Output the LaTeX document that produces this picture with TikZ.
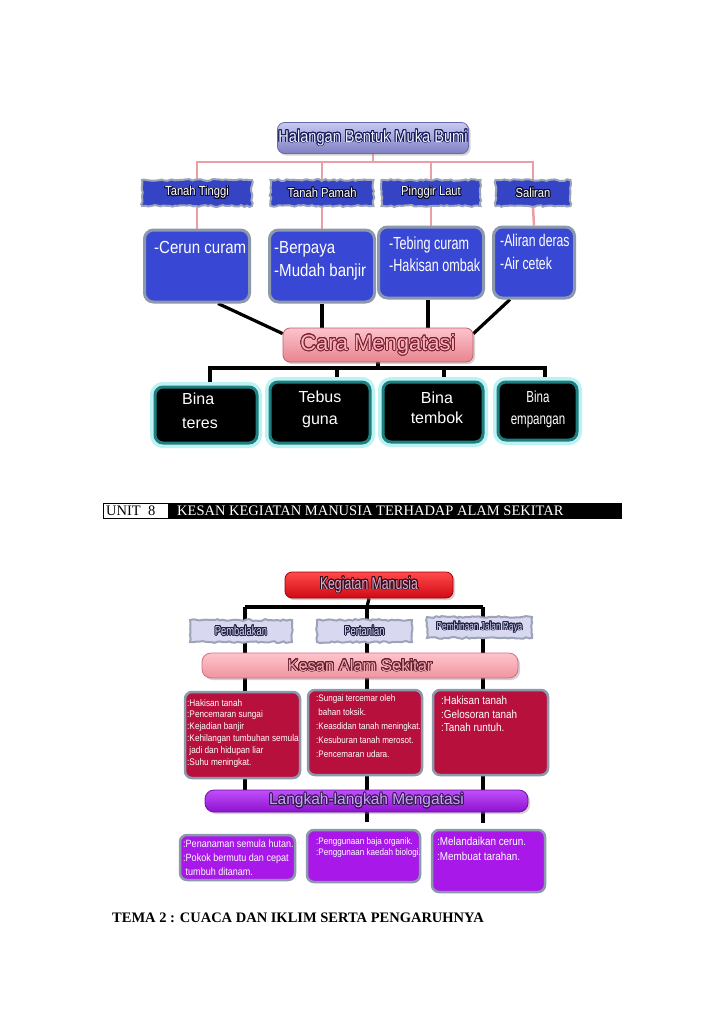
\documentclass[tikz,border=0pt]{standalone}
\usepackage{fontspec}
\setmainfont{Liberation Serif}
\newfontfamily\ars{Liberation Sans}
\newfontfamily\arc[FakeStretch=0.86]{Liberation Sans}
\newfontfamily\arcc[FakeStretch=0.72]{Liberation Sans}
\usepackage[copies]{contour}
\contourlength{0.8pt}
\contournumber{24}
\usetikzlibrary{decorations.pathmorphing,shadows,calc}
\pgfdeclarelayer{back}
\pgfdeclarelayer{bg}
\pgfsetlayers{back,bg,main}
\definecolor{pinkline}{HTML}{E8A0A4}
\definecolor{jblue}{HTML}{3444C4}
\definecolor{jborder}{HTML}{9CA4B8}
\definecolor{bbox}{HTML}{3848D4}
\definecolor{stone}{HTML}{8C98AC}
\definecolor{tealb}{HTML}{1E7E80}
\definecolor{glow}{HTML}{BDF2F2}
\definecolor{lav}{HTML}{D8D8F0}
\definecolor{crim}{HTML}{B8103C}
\definecolor{purp}{HTML}{A818E8}
\definecolor{halT}{HTML}{C8C8F2}
\definecolor{halB}{HTML}{8080C4}
\definecolor{halD}{HTML}{6A6AA8}
\definecolor{halF}{HTML}{E6F2FF}
\definecolor{halO}{HTML}{1C1C5A}
\definecolor{dkO}{HTML}{101030}
\definecolor{carT}{HTML}{FCC4CC}
\definecolor{carB}{HTML}{E8848E}
\definecolor{carD}{HTML}{C06070}
\definecolor{carF}{HTML}{F8B4BC}
\definecolor{carO}{HTML}{7A2030}
\definecolor{kmT}{HTML}{FF4A4A}
\definecolor{kmB}{HTML}{D00A14}
\definecolor{kmD}{HTML}{A00010}
\definecolor{kmF}{HTML}{E8A8C8}
\definecolor{kmO}{HTML}{301020}
\definecolor{lavF}{HTML}{D8D8F4}
\definecolor{lavO}{HTML}{202040}
\definecolor{kasT}{HTML}{FFC4CC}
\definecolor{kasB}{HTML}{F0949E}
\definecolor{kasD}{HTML}{D07080}
\definecolor{kasF}{HTML}{F4A6AE}
\definecolor{kasO}{HTML}{602030}
\definecolor{lgT}{HTML}{C050FA}
\definecolor{lgB}{HTML}{8E10D0}
\definecolor{lgD}{HTML}{7010A8}
\definecolor{lgF}{HTML}{C8A4F2}
\definecolor{lgO}{HTML}{3A1A5A}
\newcommand{\otx}[3]{\textcolor{#1}{\contour{#2}{#3}}}
\tikzset{
  pinkln/.style={draw=pinkline, line width=2.5pt},
  blkln/.style={draw=black, line width=3.2pt},
  jag/.style={draw=jborder, line width=2pt, decorate,
     decoration={random steps,segment length=3pt,amplitude=0.9pt}, inner sep=0pt},
  jagblue/.style={jag, fill=jblue},
  jaglav/.style={jag, fill=lav},
  bluebox/.style={fill=bbox, draw=stone, line width=3pt, rounded corners=9pt, inner sep=0pt},
  blackbox/.style={fill=black, draw=tealb, line width=3pt, rounded corners=8pt, inner sep=0pt,
     preaction={draw=glow, line width=10pt}},
  crimbox/.style={fill=crim, draw=stone, line width=2.5pt, rounded corners=7pt, inner sep=0pt},
  purpbox/.style={fill=purp, draw=stone, line width=2.5pt, rounded corners=7pt, inner sep=0pt},
  title/.style={rounded corners=7pt, inner sep=0pt, line width=0.8pt,
     drop shadow={shadow xshift=2pt, shadow yshift=-2pt, opacity=0.35}},
  txt/.style={inner sep=0pt, align=left, anchor=north west, text=white},
  ctxt/.style={inner sep=0pt, align=center, text=white},
}
\begin{document}
\begin{tikzpicture}[x=1pt,y=-1pt]
\pgfmathsetseed{7}
\begin{pgfonlayer}{back}
\fill[white] (0,0) rectangle (728,1029);
\end{pgfonlayer}
\useasboundingbox (0,0) rectangle (728,1029);

% ---------------- top diagram ----------------
\node[title, top color=halT, bottom color=halB, draw=halD,
  minimum width=191pt, minimum height=31pt] (hal) at (373,138)
  {\arc\fontsize{17}{17}\selectfont\otx{halF}{halO}{Halangan Bentuk Muka Bumi}};
\coordinate (hj) at (373,162);

\node[jagblue, minimum width=110pt, minimum height=26pt] (tt) at (197,193)
  {\arc\fontsize{13}{13}\selectfont\otx{white}{dkO}{Tanah Tinggi}};
\node[jagblue, minimum width=103pt, minimum height=26pt] (tp) at (322,193)
  {\arc\fontsize{13}{13}\selectfont\otx{white}{dkO}{Tanah Pamah}};
\node[jagblue, minimum width=99pt, minimum height=26pt] (pl) at (431,193)
  {\arc\fontsize{13}{13}\selectfont\otx{white}{dkO}{Pinggir Laut}};
\node[jagblue, minimum width=75pt, minimum height=26pt] (sa) at (533,193)
  {\arc\fontsize{13}{13}\selectfont\otx{white}{dkO}{Saliran}};

\node[bluebox, minimum width=105pt, minimum height=72pt] (b1) at (197,266) {};
\node[bluebox, minimum width=105pt, minimum height=72pt] (b2) at (322,266) {};
\node[bluebox, minimum width=105pt, minimum height=71pt] (b3) at (431,262.5) {};
\node[bluebox, minimum width=81pt, minimum height=71pt] (b4) at (534,262.5) {};

\node[txt, font={\arc\fontsize{17.5}{23}\selectfont}] (b1t) at (154,241) {-Cerun curam};
\node[txt, font={\arc\fontsize{17.5}{23}\selectfont}] (b2t) at (274,241) {-Berpaya\\-Mudah banjir};
\node[txt, font={\arcc\fontsize{17.5}{22}\selectfont}] (b3t) at (389,237) {-Tebing curam\\-Hakisan ombak};
\node[txt, font={\arcc\fontsize{17}{23}\selectfont}] (b4t) at (500,234) {-Aliran deras\\-Air cetek};

\node[title, top color=carT, bottom color=carB, draw=carD,
  minimum width=190pt, minimum height=34pt] (cara) at (378,345)
  {\ars\fontsize{22}{22}\selectfont\otx{carF}{carO}{Cara Mengatasi}};
\coordinate (cj) at (378,368);

\node[blackbox, minimum width=102pt, minimum height=56pt] (k1) at (206,415) {};
\node[blackbox, minimum width=100pt, minimum height=61pt] (k2) at (320,412.5) {};
\node[blackbox, minimum width=100pt, minimum height=60pt] (k3) at (433,412) {};
\node[blackbox, minimum width=79pt, minimum height=58pt] (k4) at (537.5,411) {};

\node[txt, font={\ars\fontsize{16}{24}\selectfont}] (k1t) at (182,393) {Bina\\teres};
\node[ctxt, font={\ars\fontsize{16}{22}\selectfont}] (k2t) at (320,409) {Tebus\\guna};
\node[ctxt, font={\ars\fontsize{16}{20}\selectfont}] (k3t) at (437,408) {Bina\\tembok};
\node[ctxt, font={\arcc\fontsize{16}{22}\selectfont}] (k4t) at (538,409) {Bina\\empangan};

\begin{pgfonlayer}{bg}
  \draw[pinkln] (hal.south) -- (hj);
  \draw[pinkln] (tt.south) -- (tt.north) |- (hj);
  \draw[pinkln] (tp.south) -- (tp.north) |- (hj);
  \draw[pinkln] (pl.south) -- (pl.north) |- (hj);
  \draw[pinkln] (sa.south) -- (sa.north) |- (hj);
  \draw[pinkln] (tt.south) -- (b1.north);
  \draw[pinkln] (tp.south) -- (b2.north);
  \draw[pinkln] (pl.south) -- (b3.north);
  \draw[pinkln] (sa.south) -- (b4.north);
  \draw[blkln] ([xshift=21pt]b1.south) -- ([yshift=-6pt]cara.north west);
  \draw[blkln] (b2.south) -- (b2.south |- cara.north);
  \draw[blkln] ([xshift=-3pt]b3.south) -- ([xshift=-3pt]b3.south |- cara.north);
  \draw[blkln] ([xshift=-24pt]b4.south) -- ([yshift=-6pt]cara.north east);
  \draw[blkln] (cara.south) -- (cj);
  \draw[blkln] (cj) -| ([xshift=4pt]k1.north);
  \draw[blkln] (cj) -| ([xshift=17pt]k2.north);
  \draw[blkln] (cj) -| ([xshift=11pt]k3.north);
  \draw[blkln] (cj) -| ([xshift=7.5pt]k4.north);
\end{pgfonlayer}

% ---------------- unit bar ----------------
\node[draw=black, fill=white, line width=0.6pt, minimum width=65pt, minimum height=15pt,
  anchor=north west, inner sep=0pt] (unitc) at (103,503) {};
\node[draw=black, fill=black, line width=0.6pt, minimum width=453pt, minimum height=15pt,
  anchor=north west, inner sep=0pt] (titc) at (168,503) {};
\node[anchor=west, inner sep=0pt] (unitt) at (106,511) {\fontsize{14.5}{14.5}\selectfont UNIT\ \ 8};
\node[anchor=west, inner sep=0pt, text=white] (titt) at (177,511)
  {\fontsize{14.5}{14.5}\selectfont KESAN KEGIATAN MANUSIA TERHADAP ALAM SEKITAR};

% ---------------- bottom diagram ----------------
\node[title, top color=kmT, bottom color=kmB, draw=kmD,
  minimum width=168pt, minimum height=26pt] (km) at (369,585)
  {\arcc\fontsize{17}{17}\selectfont\otx{kmF}{kmO}{Kegiatan Manusia}};
\coordinate (kj) at (367,607);
\coordinate (v1) at (245,607);
\coordinate (v2) at (367,607);
\coordinate (v3) at (483,607);

\node[jaglav, minimum width=102pt, minimum height=22pt] (pb) at (241,631)
  {\arcc\fontsize{13}{13}\selectfont\otx{lavF}{lavO}{Pembalakan}};
\node[jaglav, minimum width=95pt, minimum height=22pt] (pt) at (364.5,631)
  {\arcc\fontsize{13}{13}\selectfont\otx{lavF}{lavO}{Pertanian}};
\node[jaglav, minimum width=105pt, minimum height=21pt] (pj) at (479.5,627.5)
  {\arcc\fontsize{11.5}{11.5}\selectfont\otx{lavF}{lavO}{Pembinaan Jalan Raya}};

\node[title, rounded corners=9pt, top color=kasT, bottom color=kasB, draw=kasD,
  minimum width=316pt, minimum height=25pt] (kas) at (360,665.5)
  {\ars\fontsize{16.5}{16.5}\selectfont\otx{kasF}{kasO}{Kesan Alam Sekitar}};

\node[crimbox, minimum width=115pt, minimum height=86pt] (c1) at (242.5,735) {};
\node[crimbox, minimum width=114pt, minimum height=85pt] (c2) at (365,732.5) {};
\node[crimbox, minimum width=115pt, minimum height=85pt] (c3) at (490.5,732.5) {};

\node[txt, font={\arc\fontsize{9.6}{11.8}\selectfont}] (c1t) at (187,699)
  {:Hakisan tanah\\:Pencemaran sungai\\:Kejadian banjir\\:Kehilangan tumbuhan semula\\\ jadi dan hidupan liar\\:Suhu meningkat.};
\node[txt, font={\arc\fontsize{9.4}{14.2}\selectfont}] (c2t) at (316,694)
  {:Sungai tercemar oleh\\\ bahan toksik.\\:Keasdidan tanah meningkat.\\:Kesuburan tanah merosot.\\:Pencemaran udara.};
\node[txt, font={\arc\fontsize{11.5}{13.5}\selectfont}] (c3t) at (441,696)
  {:Hakisan tanah\\:Gelosoran tanah\\:Tanah runtuh.};

\node[title, rounded corners=9pt, top color=lgT, bottom color=lgB, draw=lgD,
  minimum width=323pt, minimum height=22pt] (lang) at (366.5,801)
  {\ars\fontsize{15.5}{15.5}\selectfont\otx{lgF}{lgO}{Langkah-langkah Mengatasi}};
\coordinate (s2) at (367,822);
\coordinate (s3) at (483,823);

\node[purpbox, minimum width=115pt, minimum height=45pt] (p1) at (237.5,857.5) {};
\node[purpbox, minimum width=113pt, minimum height=52pt] (p2) at (363.5,856) {};
\node[purpbox, minimum width=113pt, minimum height=62pt] (p3) at (488.5,861) {};

\node[txt, font={\arc\fontsize{10.5}{14}\selectfont}] (p1t) at (183,840)
  {:Penanaman semula hutan.\\:Pokok bermutu dan cepat\\\ tumbuh ditanam.};
\node[txt, font={\arc\fontsize{9.4}{11.8}\selectfont}] (p2t) at (316,837)
  {:Penggunaan baja organik.\\:Penggunaan kaedah biologi.};
\node[txt, font={\arc\fontsize{11.5}{15}\selectfont}] (p3t) at (437,837)
  {:Melandaikan cerun.\\:Membuat tarahan.};

\begin{pgfonlayer}{bg}
  \draw[blkln] (km.south) -- (kj);
  \draw[blkln] (v1) -- (v3);
  \draw[blkln] (v1) -- (v1 |- kas.north);
  \draw[blkln] (v2) -- (v2 |- kas.north);
  \draw[blkln] (v3) -- (v3 |- kas.north);
  \draw[blkln] (v1 |- kas.south) -- (v1 |- lang.north);
  \draw[blkln] (v2 |- kas.south) -- (v2 |- lang.north);
  \draw[blkln] (v3 |- kas.south) -- (v3 |- lang.north);
  \draw[blkln] (s2 |- lang.south) -- (s2);
  \draw[blkln] (s3 |- lang.south) -- (s3);
\end{pgfonlayer}

% ---------------- tema line ----------------
\node[anchor=base west, inner sep=0pt] (tema) at (112,922)
  {\fontsize{14.5}{14.5}\selectfont\bfseries TEMA 2 : CUACA DAN IKLIM SERTA PENGARUHNYA};
\end{tikzpicture}
\end{document}
